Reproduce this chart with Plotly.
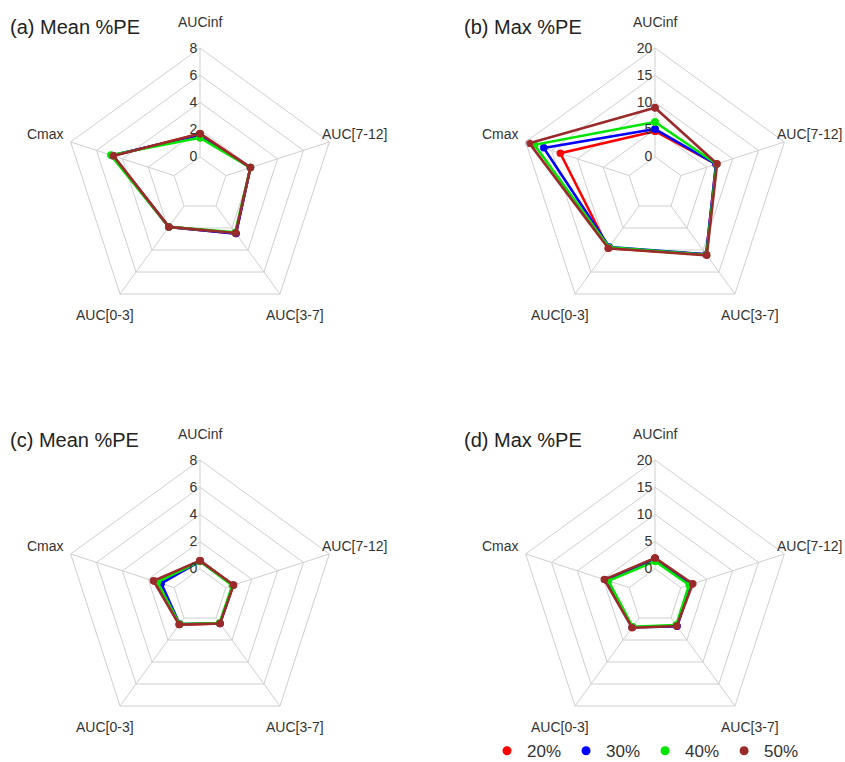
import math
import plotly.graph_objects as go

# Spoke categories, clockwise from the top
categories = ["AUCinf", "AUC[7-12]", "AUC[3-7]", "AUC[0-3]", "Cmax"]
series_names = ["20%", "30%", "40%", "50%"]
series_colors = ["#ff0000", "#0000ff", "#00e600", "#9b2b2b"]

# %PE values per series, in category order
mean_pe_a = {
    "20%": [1.7, 1.9, 2.5, 1.9, 4.7],
    "30%": [1.6, 1.9, 2.5, 1.9, 4.8],
    "40%": [1.4, 1.9, 2.4, 1.9, 4.9],
    "50%": [1.7, 1.9, 2.45, 1.9, 4.7],
}
max_pe_b = {
    "20%": [4.7, 6.8, 11.0, 9.6, 13.3],
    "30%": [5.1, 6.8, 11.0, 9.3, 16.5],
    "40%": [6.4, 6.9, 11.1, 9.4, 18.3],
    "50%": [9.0, 7.0, 11.2, 9.6, 19.3],
}
mean_pe_c = {
    "20%": [0.6, 0.55, 0.5, 0.6, 1.5],
    "30%": [0.55, 0.55, 0.5, 0.55, 1.0],
    "40%": [0.55, 0.5, 0.45, 0.55, 1.3],
    "50%": [0.6, 0.6, 0.5, 0.6, 1.6],
}
max_pe_d = {
    "20%": [1.9, 2.0, 1.8, 2.1, 4.2],
    "30%": [1.8, 2.0, 1.9, 2.1, 4.3],
    "40%": [1.4, 1.6, 1.6, 2.0, 4.0],
    "50%": [2.0, 2.3, 1.8, 2.2, 4.8],
}

mean_ticks = [0, 2, 4, 6, 8]
max_ticks = [0, 5, 10, 15, 20]

panel_titles = ["(a) Mean %PE", "(b) Max %PE", "(c) Mean %PE", "(d) Max %PE"]

W, H = 845, 762
FONT = "Arial, Liberation Sans, sans-serif"
GRID = "#cfcfcf"

panels = [
    ("polar", mean_pe_a, mean_ticks, (200, 184)),
    ("polar2", max_pe_b, max_ticks, (655, 184)),
    ("polar3", mean_pe_c, mean_ticks, (200, 596)),
    ("polar4", max_pe_d, max_ticks, (655, 596)),
]
RADIUS = 136
LABEL_RADIUS = 162

fig = go.Figure()

for sub, data, ticks, _ in panels:
    for name, color in zip(series_names, series_colors):
        vals = data[name]
        fig.add_trace(go.Scatterpolar(
            r=vals + vals[:1],
            theta=categories + categories[:1],
            mode="lines+markers",
            name=name,
            line=dict(color=color, width=2.6),
            marker=dict(color=color, size=7.5),
            subplot=sub,
            showlegend=False,
        ))

# marker-only legend entries
for name, color in zip(series_names, series_colors):
    fig.add_trace(go.Scatterpolar(
        r=[None], theta=[categories[0]], mode="markers", name=name,
        marker=dict(color=color, size=9), subplot="polar4", showlegend=True,
    ))

layout = dict(
    width=W, height=H,
    margin=dict(l=0, r=0, t=0, b=0, autoexpand=False),
    paper_bgcolor="white",
    font=dict(family=FONT, color="#333333", size=14),
    showlegend=True,
    legend=dict(
        orientation="h", x=487 / W, xanchor="left", y=-0.0095, yanchor="bottom",
        font=dict(size=17, color="#333333"), itemwidth=30, bgcolor="rgba(0,0,0,0)",
        borderwidth=0,
    ),
)

annotations = []
for sub, data, ticks, (cx, cy) in panels:
    layout[sub] = dict(
        domain=dict(
            x=[(cx - RADIUS) / W, (cx + RADIUS) / W],
            y=[(H - cy - RADIUS) / H, (H - cy + RADIUS) / H],
        ),
        bgcolor="white",
        gridshape="linear",
        hole=0.2,
        radialaxis=dict(
            range=[ticks[0], ticks[-1]],
            tickvals=ticks,
            angle=90,
            tickangle=90,
            side="counterclockwise",
            showline=False,
            ticks="",
            gridcolor=GRID,
            tickfont=dict(size=14, color="#333333"),
        ),
        angularaxis=dict(
            type="category",
            categoryarray=categories,
            direction="clockwise",
            rotation=90,
            showline=True,
            linecolor=GRID,
            gridcolor=GRID,
            ticks="",
            showticklabels=False,
        ),
    )
    # category labels just outside each vertex
    for k, cat in enumerate(categories):
        ang = math.radians(90 - 72 * k)
        lx = cx + LABEL_RADIUS * math.cos(ang)
        ly = cy - LABEL_RADIUS * math.sin(ang)
        annotations.append(dict(
            text=cat, x=lx / W, y=1 - ly / H, xref="paper", yref="paper",
            xanchor="center", yanchor="middle", showarrow=False,
            font=dict(size=14, color="#333333", family=FONT),
        ))

title_pos = [(8, 27), (462, 27), (8, 440), (462, 440)]
for text, (x, y) in zip(panel_titles, title_pos):
    annotations.append(dict(
        text=text, x=x / W, y=1 - y / H, xref="paper", yref="paper",
        xanchor="left", yanchor="middle", showarrow=False,
        font=dict(size=20, color="#222222", family=FONT),
    ))
layout["annotations"] = annotations

fig.update_layout(**layout)
fig.write_html("out.html")
